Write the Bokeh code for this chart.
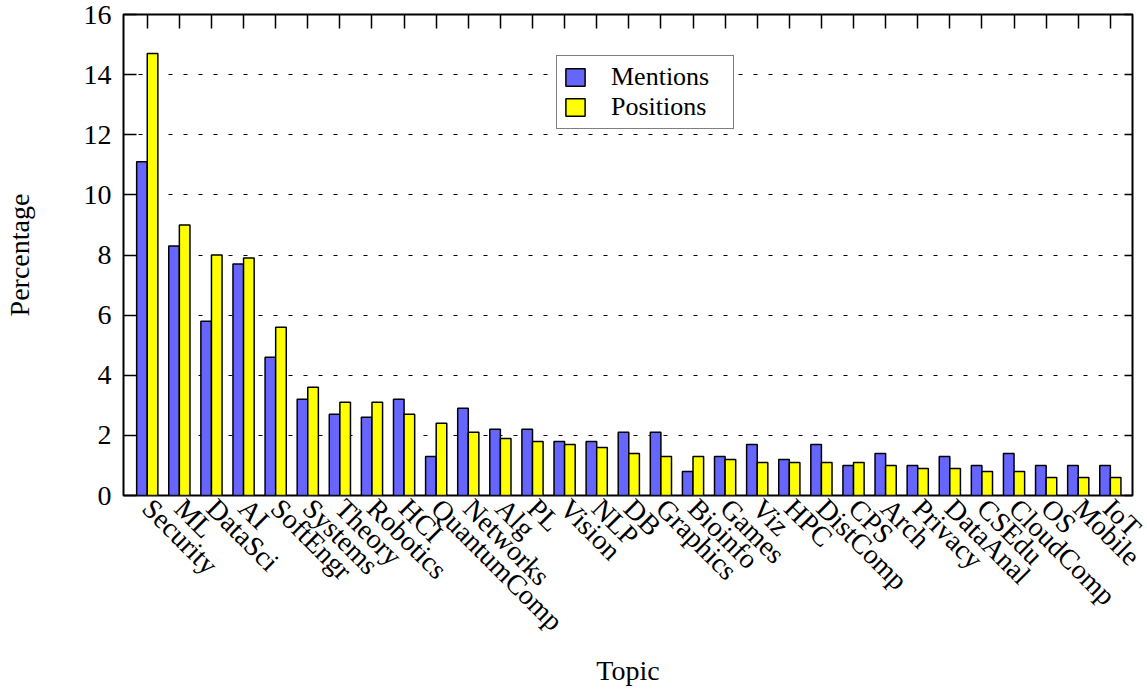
import math
from bokeh.plotting import figure
from bokeh.models import (ColumnDataSource, Range1d, LinearAxis, FixedTicker,
                          Legend, LegendItem)
from bokeh.transform import dodge
from bokeh.embed import file_html
from bokeh.resources import INLINE

topics = ["Security", "ML", "DataSci", "AI", "SoftEngr", "Systems", "Theory",
          "Robotics", "HCI", "QuantumComp", "Networks", "Alg", "PL", "Vision",
          "NLP", "DB", "Graphics", "Bioinfo", "Games", "Viz", "HPC", "DistComp",
          "CPS", "Arch", "Privacy", "DataAnal", "CSEdu", "CloudComp", "OS",
          "Mobile", "IoT"]
mentions = [11.1, 8.3, 5.8, 7.7, 4.6, 3.2, 2.7, 2.6, 3.2, 1.3, 2.9, 2.2, 2.2,
            1.8, 1.8, 2.1, 2.1, 0.8, 1.3, 1.7, 1.2, 1.7, 1.0, 1.4, 1.0, 1.3,
            1.0, 1.4, 1.0, 1.0, 1.0]
positions = [14.7, 9.0, 8.0, 7.9, 5.6, 3.6, 3.1, 3.1, 2.7, 2.4, 2.1, 1.9, 1.8,
             1.7, 1.6, 1.4, 1.3, 1.3, 1.2, 1.1, 1.1, 1.1, 1.1, 1.0, 0.9, 0.9,
             0.8, 0.8, 0.6, 0.6, 0.6]
y_ticks = [0, 2, 4, 6, 8, 10, 12, 14, 16]

FONT = "Liberation Serif"
BLUE = "#6666ff"
YELLOW = "#ffff00"

idx = list(range(len(topics)))
src = ColumnDataSource(dict(x=idx, mentions=mentions, positions=positions))

p = figure(frame_width=1009, frame_height=481, output_backend="svg",
           toolbar_location=None,
           x_range=Range1d(-0.74, 30.69), y_range=Range1d(0, 16),
           min_border_left=120, min_border_top=14, min_border_right=15,
           min_border_bottom=10)

bw = 0.33
r1 = p.vbar(x=dodge("x", -bw / 2, range=p.x_range), top="mentions", width=bw,
            source=src, fill_color=BLUE, line_color="black", line_width=1.5)
r2 = p.vbar(x=dodge("x", bw / 2, range=p.x_range), top="positions", width=bw,
            source=src, fill_color=YELLOW, line_color="black", line_width=1.5)

# axes
p.xaxis.ticker = FixedTicker(ticks=idx)
p.xaxis.major_label_overrides = {i: t for i, t in enumerate(topics)}
p.xaxis.major_label_orientation = -math.pi / 4
p.xaxis.major_tick_in = 0
p.xaxis.major_tick_out = 0
p.xaxis.minor_tick_line_color = None
p.xaxis.axis_line_color = None
p.xaxis.major_label_standoff = 8
p.xaxis.axis_label = "Topic"
p.xaxis.axis_label_standoff = 4

p.yaxis.ticker = FixedTicker(ticks=y_ticks)
p.yaxis.major_tick_in = 13
p.yaxis.major_tick_out = 0
p.yaxis.minor_tick_line_color = None
p.yaxis.axis_line_color = None
p.yaxis.major_label_standoff = 12
p.yaxis.axis_label = "Percentage"
p.yaxis.axis_label_standoff = 46

for ax in (p.xaxis[0], p.yaxis[0]):
    ax.major_label_text_font = FONT
    ax.major_label_text_font_size = "28px"
    ax.major_label_text_color = "black"
    ax.axis_label_text_font = FONT
    ax.axis_label_text_font_size = "28px"
    ax.axis_label_text_font_style = "normal"
    ax.axis_label_text_color = "black"
    ax.major_tick_line_color = "black"
    ax.major_tick_line_width = 1.5

top_ax = LinearAxis(ticker=FixedTicker(ticks=idx), major_tick_in=14,
                    major_tick_out=0, minor_tick_line_color=None,
                    axis_line_color=None, major_label_text_font_size="0px",
                    major_tick_line_color="black", major_tick_line_width=1.5)
top_ax.major_label_overrides = {i: "" for i in idx}
p.add_layout(top_ax, "above")

right_ax = LinearAxis(ticker=FixedTicker(ticks=y_ticks), major_tick_in=8,
                      major_tick_out=0, minor_tick_line_color=None,
                      axis_line_color=None, major_label_text_font_size="0px",
                      major_tick_line_color="black", major_tick_line_width=1.5)
right_ax.major_label_overrides = {t: "" for t in y_ticks}
p.add_layout(right_ax, "right")

# grid
p.xgrid.grid_line_color = None
p.ygrid.ticker = FixedTicker(ticks=y_ticks[1:-1])
p.ygrid.grid_line_color = "black"
p.ygrid.grid_line_dash = "4 11"
p.ygrid.grid_line_width = 1.2

p.outline_line_color = "black"
p.outline_line_width = 2
p.background_fill_color = "white"
p.border_fill_color = "white"

legend = Legend(items=[LegendItem(label="Mentions", renderers=[r1]),
                       LegendItem(label="Positions", renderers=[r2])],
                location=(433, 366))
legend.label_text_font = FONT
legend.label_text_font_size = "26px"
legend.label_text_color = "black"
legend.label_width = 116
legend.label_height = 22
legend.glyph_width = 24
legend.glyph_height = 22
legend.label_standoff = 24
legend.spacing = 0
legend.padding = 6
legend.margin = 0
legend.border_line_color = "black"
legend.border_line_width = 1.5
legend.background_fill_alpha = 1
p.add_layout(legend, "center")

open("out.html", "w").write(file_html(p, INLINE))
